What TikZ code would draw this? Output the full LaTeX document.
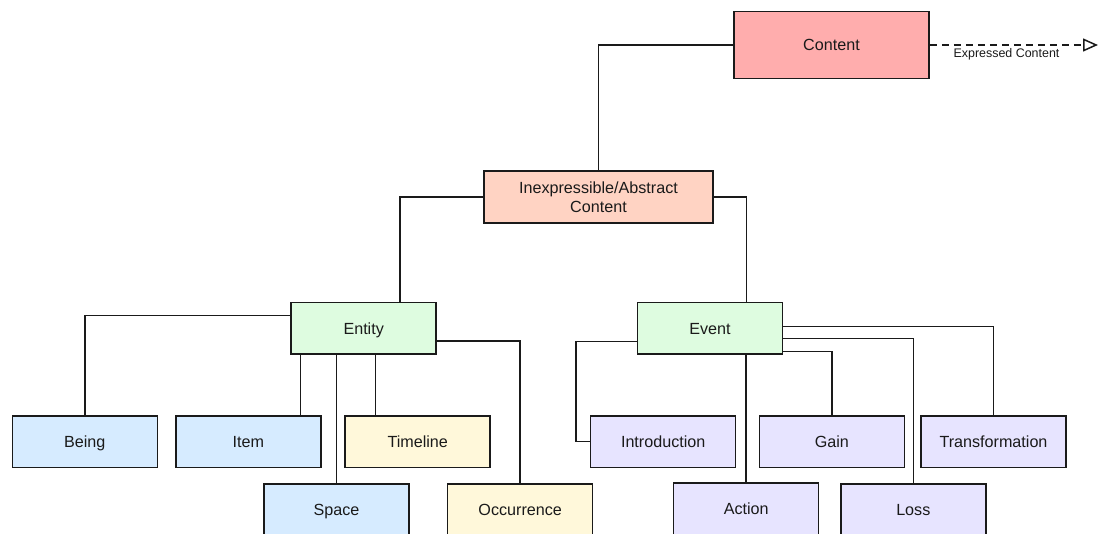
\documentclass[tikz,border=0pt]{standalone}
\usepackage{fontspec}
\setmainfont{Liberation Sans}
\usetikzlibrary{arrows.meta}
\definecolor{cred}{HTML}{FFADAD}
\definecolor{cpeach}{HTML}{FFD3C3}
\definecolor{cgreen}{HTML}{DEFCE0}
\definecolor{cblue}{HTML}{D6EBFF}
\definecolor{cyellow}{HTML}{FFF8DA}
\definecolor{clav}{HTML}{E7E4FF}
\definecolor{ink}{HTML}{1A1A1A}
\begin{document}
\begin{tikzpicture}[x=1bp,y=-1bp,
  box/.style={draw=ink, line width=1.5bp, minimum width=145bp, minimum height=51.5bp,
    inner sep=2bp, text=ink, font=\fontsize{16.2}{19}\selectfont},
  onel/.style={text height=11.5bp, text depth=0bp},
  conn/.style={draw=ink, line width=1.5bp},
  lbl/.style={text=ink, font=\fontsize{12.5}{14}\selectfont, inner sep=0pt}]
\useasboundingbox (0,0) rectangle (1100,534);
\clip (0,0) rectangle (1100,534);

% nodes
\node[box, onel, fill=cred, minimum width=195bp, minimum height=67bp] (content) at (831.5,45) {Content};
\node[box, fill=cpeach, minimum width=229bp, minimum height=52bp, align=center] (inexp) at (598.5,197) {Inexpressible/Abstract\\Content};
\node[box, onel, fill=cgreen] (entity) at (363.7,328.5) {Entity};
\node[box, onel, fill=cgreen] (event) at (710,328.5) {Event};

\node[box, onel, fill=cblue] (being) at (84.8,441.5) {Being};
\node[box, onel, fill=cblue] (item) at (248.4,441.5) {Item};
\node[box, onel, fill=cyellow] (timeline) at (417.7,441.5) {Timeline};
\node[box, onel, fill=cblue] (space) at (336.5,509.5) {Space};
\node[box, onel, fill=cyellow] (occurrence) at (520.2,509.5) {Occurrence};

\node[box, onel, fill=clav] (intro) at (663.2,441.5) {Introduction};
\node[box, onel, fill=clav] (gain) at (831.8,441.5) {Gain};
\node[box, onel, fill=clav] (transf) at (993.5,441.5) {Transformation};
\node[box, onel, fill=clav] (action) at (746.2,508.5) {Action};
\node[box, onel, fill=clav] (loss) at (913.3,509.5) {Loss};

% expressed content arrow
\coordinate (exptip) at (1098,45);
\draw[conn, dash pattern=on 7bp off 5bp, -{Triangle[open, length=15bp, width=13bp]}] (content.east) -- (exptip);
\node[lbl, anchor=base] (explbl) at (1006.5,58) {Expressed Content};

% connectors
\draw[conn] (content.west) -| (inexp.north);
\draw[conn] (inexp.west) -| ([xshift=36.5bp]entity.north);
\draw[conn] (inexp.east) -| ([xshift=36.5bp]event.north);

\draw[conn] ([yshift=13bp]entity.west) -| (being.north);
\draw[conn] ([xshift=-63bp]entity.south) -- ([xshift=-63bp]entity.south |- item.north);
\draw[conn] ([xshift=-27bp]entity.south) -- ([xshift=-27bp]entity.south |- space.north);
\draw[conn] ([xshift=12bp]entity.south) -- ([xshift=12bp]entity.south |- timeline.north);
\draw[conn] ([yshift=-12.5bp]entity.east) -| (occurrence.north);

\draw[conn] ([yshift=-13bp]event.west) -- ++(-61,0) |- (intro.west);
\draw[conn] (event.south -| action.north) -- (action.north);
\draw[conn] ([yshift=-23bp]event.east) -| (gain.north);
\draw[conn] ([yshift=-10bp]event.east) -| (loss.north);
\draw[conn] ([yshift=2bp]event.east) -| (transf.north);
\end{tikzpicture}
\end{document}
